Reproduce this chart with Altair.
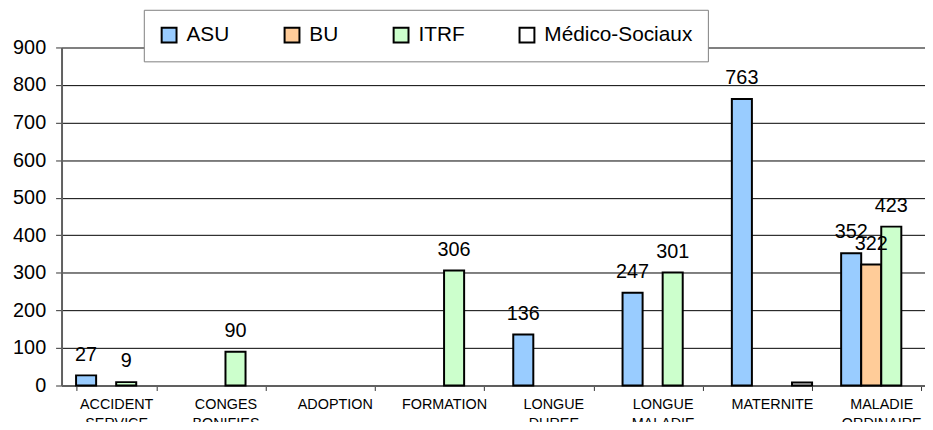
import altair as alt
import pandas as pd

categories = ["ACCIDENT SERVICE", "CONGES BONIFIES", "ADOPTION", "FORMATION",
              "LONGUE DUREE", "LONGUE MALADIE", "MATERNITE", "MALADIE ORDINAIRE"]
series = ["ASU", "BU", "ITRF", "Médico-Sociaux"]
asu = [27, 0, 0, 0, 136, 247, 763, 352]
bu = [0, 0, 0, 0, 0, 0, 0, 322]
itrf = [9, 90, 0, 306, 0, 301, 0, 423]
medico = [0, 0, 0, 0, 0, 0, 8, 0]
colors = ["#99CCFF", "#FFCC99", "#CCFFCC", "#FFFFFF"]
y_ticks = [0, 100, 200, 300, 400, 500, 600, 700, 800, 900]

rows = []
for s, vals in zip(series, [asu, bu, itrf, medico]):
    for c, v in zip(categories, vals):
        if v > 0:
            rows.append({"cat": c, "serie": s, "value": v,
                         "label": "" if s == "Médico-Sociaux" else str(v)})
df = pd.DataFrame(rows)

FONT = "Liberation Sans"

x_enc = alt.X("cat:N", sort=categories,
              scale=alt.Scale(domain=categories, range=[0, 882],
                              paddingInner=0.266, paddingOuter=0.133),
              axis=alt.Axis(title=None, labelAngle=0, tickBand="extent",
                            labelExpr="split(datum.label, ' ')",
                            labelFontSize=14.5, labelLineHeight=19,
                            labelPadding=7, tickSize=5, tickColor="#333333",
                            domainColor="#606060", domainWidth=2,
                            labelColor="black", labelFont=FONT,
                            labelBaseline="top"))
xo_enc = alt.XOffset("serie:N", sort=series,
                     scale=alt.Scale(domain=series, paddingInner=0, paddingOuter=0))
y_enc = alt.Y("value:Q",
              scale=alt.Scale(domain=[0, 900], nice=False, zero=True),
              axis=alt.Axis(title=None, values=y_ticks, grid=True, labelOverlap=False,
                            gridColor={"condition": {"test": "datum.value === 900", "value": "#808080"}, "value": "#000000"},
                            gridWidth={"condition": {"test": "datum.value === 900", "value": 2}, "value": 1},
                            labelFontSize=20, labelFont=FONT, labelColor="black",
                            labelPadding=10, tickSize=6, tickColor="#333333",
                            domainColor="#606060", domainWidth=2))

bars = alt.Chart(df).mark_bar(stroke="black", strokeWidth=2).encode(
    x=x_enc, xOffset=xo_enc, y=y_enc,
    fill=alt.Fill("serie:N", sort=series,
                  scale=alt.Scale(domain=series, range=colors),
                  legend=alt.Legend(title=None, orient="none", legendX=83, legendY=-38,
                                    direction="horizontal", symbolType="square",
                                    symbolSize=225, symbolStrokeColor="black",
                                    symbolStrokeWidth=2, labelFontSize=21,
                                    labelFont=FONT, labelColor="black",
                                    labelOffset=7, columnPadding=51, padding=15,
                                    strokeColor="#808080", fillColor="white",
                                    labelLimit=400)),
)

labels = alt.Chart(df).mark_text(fontSize=20, font=FONT, color="black",
                                 baseline="alphabetic", dy=-15).encode(
    x=x_enc, xOffset=xo_enc, y=y_enc, text="label:N")

chart = alt.layer(bars, labels).properties(
    width=871, height=341,
    autosize=alt.AutoSizeParams(type="none"),
    padding={"left": 54, "top": 38, "right": 0, "bottom": 35},
).configure_view(stroke=None).configure(background="white")

chart.save("out.html", embed_options={"renderer": "svg", "actions": False})
